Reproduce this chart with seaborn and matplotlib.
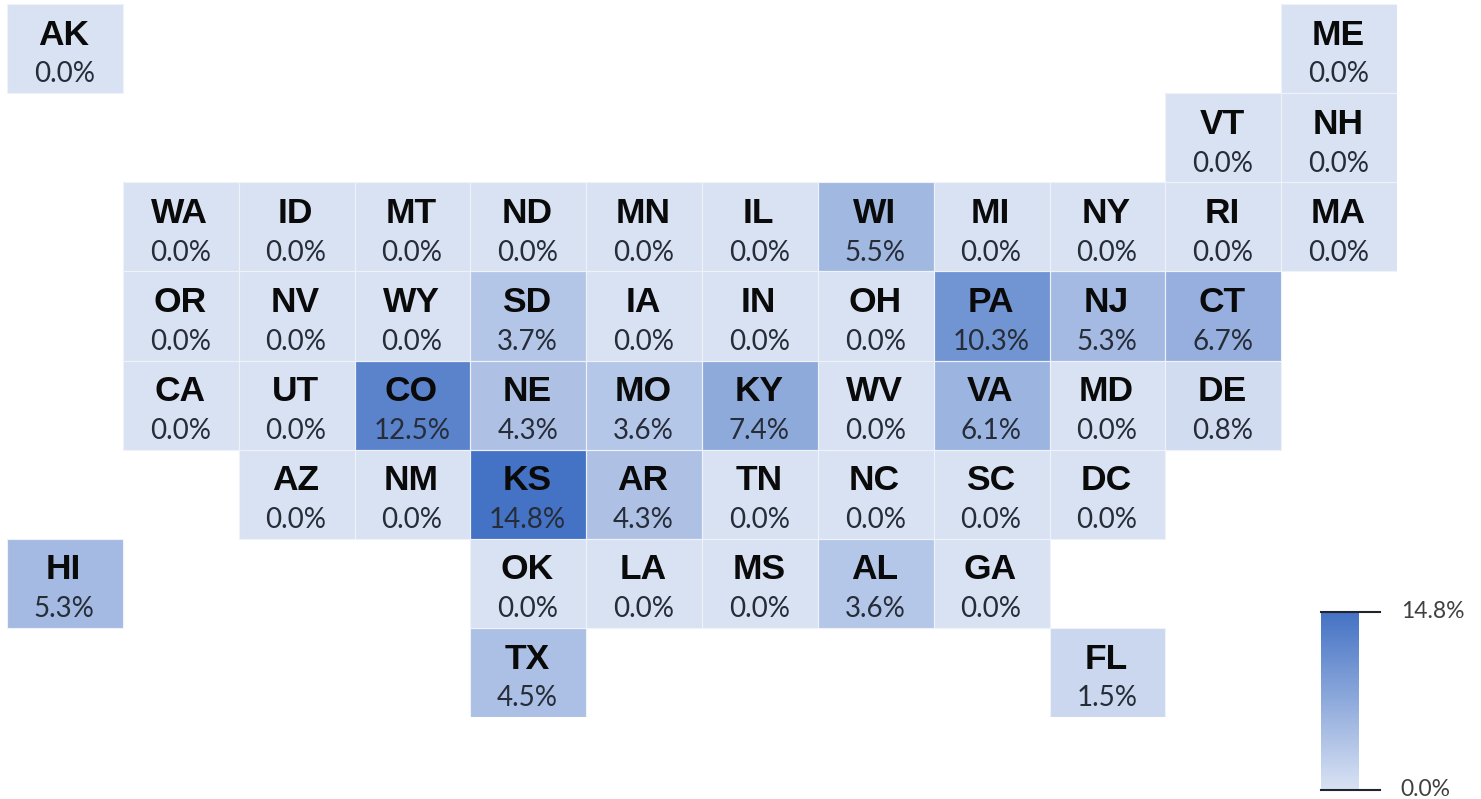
import numpy as np
import matplotlib
matplotlib.use("Agg")
import matplotlib.pyplot as plt
from matplotlib.colors import LinearSegmentedColormap
from matplotlib.patches import Rectangle
from matplotlib.transforms import ScaledTranslation
import seaborn as sns

row0_states = ["AK", "", "", "", "", "", "", "", "", "", "", "ME"]
row0_values = [0.0, None, None, None, None, None, None, None, None, None, None, 0.0]
row1_states = ["", "", "", "", "", "", "", "", "", "", "VT", "NH"]
row1_values = [None, None, None, None, None, None, None, None, None, None, 0.0, 0.0]
row2_states = ["", "WA", "ID", "MT", "ND", "MN", "IL", "WI", "MI", "NY", "RI", "MA"]
row2_values = [None, 0.0, 0.0, 0.0, 0.0, 0.0, 0.0, 5.5, 0.0, 0.0, 0.0, 0.0]
row3_states = ["", "OR", "NV", "WY", "SD", "IA", "IN", "OH", "PA", "NJ", "CT", ""]
row3_values = [None, 0.0, 0.0, 0.0, 3.7, 0.0, 0.0, 0.0, 10.3, 5.3, 6.7, None]
row4_states = ["", "CA", "UT", "CO", "NE", "MO", "KY", "WV", "VA", "MD", "DE", ""]
row4_values = [None, 0.0, 0.0, 12.5, 4.3, 3.6, 7.4, 0.0, 6.1, 0.0, 0.8, None]
row5_states = ["", "", "AZ", "NM", "KS", "AR", "TN", "NC", "SC", "DC", "", ""]
row5_values = [None, None, 0.0, 0.0, 14.8, 4.3, 0.0, 0.0, 0.0, 0.0, None, None]
row6_states = ["HI", "", "", "", "OK", "LA", "MS", "AL", "GA", "", "", ""]
row6_values = [5.3, None, None, None, 0.0, 0.0, 0.0, 3.6, 0.0, None, None, None]
row7_states = ["", "", "", "", "TX", "", "", "", "", "FL", "", ""]
row7_values = [None, None, None, None, 4.5, None, None, None, None, 1.5, None, None]

states = [row0_states, row1_states, row2_states, row3_states,
          row4_states, row5_states, row6_states, row7_states]
values = np.array([row0_values, row1_values, row2_values, row3_values,
                   row4_values, row5_values, row6_values, row7_values], dtype=float)

W, H = 1481, 799
fig = plt.figure(figsize=(W / 100, H / 100), dpi=100, facecolor="white")
ax = fig.add_axes([7 / W, 1 - 717 / H, (1397 - 7) / W, (717 - 4) / H])
cax = fig.add_axes([1321 / W, 1 - 790 / H, 38 / W, (790 - 612) / H])

cmap = LinearSegmentedColormap.from_list("tile", ["#D9E2F3", "#4472C4"])
sns.heatmap(values, ax=ax, cbar_ax=cax, cmap=cmap, vmin=0, vmax=14.8,
            linewidths=0, square=False, xticklabels=False, yticklabels=False)
ax.tick_params(left=False, bottom=False)

for r, row in enumerate(states):
    for c, name in enumerate(row):
        if name:
            ax.add_patch(Rectangle((c, r), 1, 1, fill=False, lw=0.8,
                                   edgecolor="#EEF2F9"))
            ax.text(c + 0.49, r + 0.35, name, ha="center", va="center",
                    fontsize=25.5, fontweight="bold", family="Liberation Sans",
                    color="#0A0A0A")
            ax.text(c + 0.495, r + 0.79, f"{values[r, c]:.1f}%", ha="center",
                    va="center", fontsize=20, family="Lato", color="#262C38")

cbar = ax.collections[0].colorbar
cbar.outline.set_visible(False)
cbar.set_ticks([0.0, 14.8])
cbar.set_ticklabels(["0.0%", "14.8%"])
cbar.ax.tick_params(length=0, labelsize=16.5, labelcolor="#404040", pad=30)
shift = ScaledTranslation(0, 1.5 / 72, fig.dpi_scale_trans)
for lab in cbar.ax.get_yticklabels():
    lab.set_family("Lato")
    lab.set_transform(lab.get_transform() + shift)
for v in (0.0, 14.8):
    cbar.ax.plot([0, 1.55], [v, v], color="#1F2430", lw=1.5, clip_on=False,
                 transform=cbar.ax.get_yaxis_transform())

fig.savefig("out.png", dpi=100, facecolor="white")
